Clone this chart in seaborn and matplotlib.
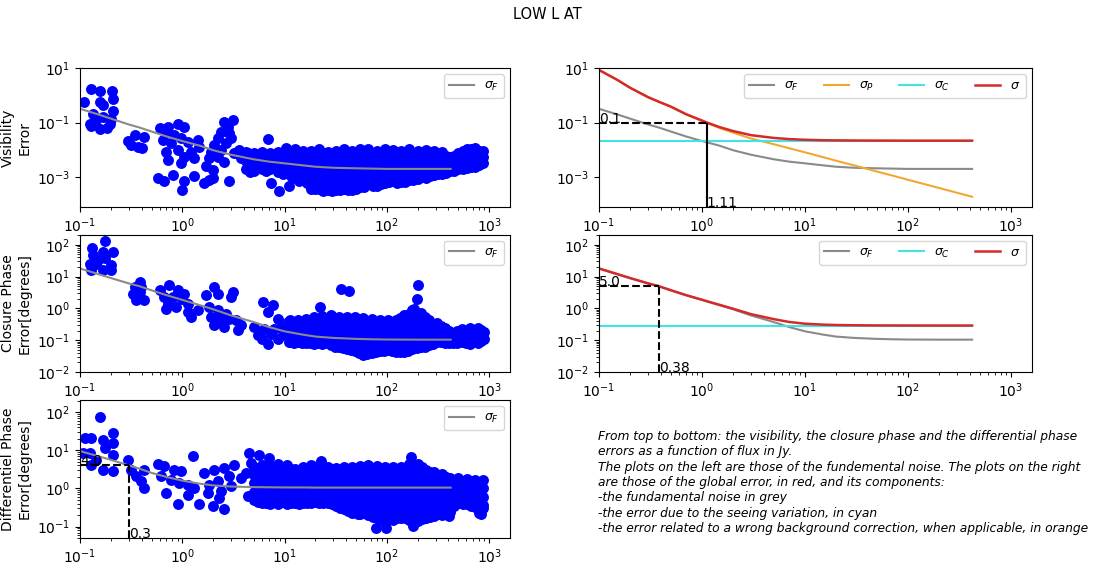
import numpy as np
import pandas as pd
import matplotlib
matplotlib.use("Agg")
import matplotlib.pyplot as plt
import seaborn as sns

# ---------------- data ----------------
# scatter points stored as (log10 flux [Jy], log10 error)
vis_sparse = [
    (-0.896, 0.237), (-0.809, 0.140), (-0.685, 0.140), (-0.679, -0.127), (-0.961, -0.248),
    (-0.809, -0.248), (-0.776, -0.369), (-0.874, -0.672), (-0.679, -0.587), (-0.906, -1.06),
    (-0.89, -1.13), (-0.809, -1.25), (-0.734, -1.19), (-0.695, -0.854), (-0.776, -0.793),
    (-0.841, -0.914), (-0.711, -1.036),
    (-0.532, -1.666), (-0.467, -1.46), (-0.435, -1.884), (-0.396, -1.945), (-0.37, -1.52), (-0.5, -1.82),
    (-0.223, -1.217), (-0.142, -1.157), (-0.044, -1.036), (0.021, -1.157), (-0.158, -1.399),
    (-0.077, -1.46), (-0.191, -1.642), (-0.109, -1.763), (-0.012, -1.581), (0.053, -1.702),
    (0.151, -1.642), (-0.158, -2.066), (-0.044, -2.005), (0.086, -2.066), (0.021, -2.248),
    (0.118, -2.308), (-0.142, -2.369), (-0.012, -2.49), (0.167, -1.884), (-0.24, -3.036),
    (-0.175, -3.157), (-0.093, -2.914), (0.021, -3.157), (-0.005, -3.48), (0.112, -2.975),
    (0.216, -3.217), (0.265, -3.096), (0.297, -3.036), (0.232, -2.611), (0.297, -2.733),
    (0.411, -0.975), (0.492, -0.914), (0.443, -1.157), (0.378, -1.339), (0.346, -1.581),
    (0.313, -1.824), (0.281, -2.066), (0.265, -2.308), (0.460, -1.399), (0.476, -1.581),
    (0.427, -1.763), (0.378, -2.005), (0.346, -2.248), (0.411, -2.43), (0.508, -2.127),
    (0.46, -3.157), (0.557, -2.005), (0.573, -2.308), (0.639, -2.127), (0.671, -2.49),
    (0.736, -2.248), (0.834, -1.617), (0.785, -2.369), (0.85, -2.611), (0.866, -3.217),
    (0.948, -3.52), (0.931, -2.127), (1.013, -1.945), (0.996, -2.49), (1.061, -2.854),
    (1.045, -3.339), (1.26, -3.42),
]
vis_blob = [
    (0.62, [-2.08, -2.40, -2.72]), (0.70, [-2.13, -2.45, -2.77]), (0.78, [-2.08, -2.38, -2.70]),
    (0.86, [-2.13, -2.42, -2.72]), (0.94, [-2.08, -2.40, -2.80]), (1.02, [-2.03, -2.33, -2.60, -2.82]),
    (1.10, [-1.98, -2.28, -2.58, -2.85, -3.02]), (1.18, [-2.03, -2.32, -2.62, -2.90, -3.12]),
    (1.26, [-2.03, -2.30, -2.58, -2.86, -3.10, -3.32]), (1.34, [-1.98, -2.26, -2.55, -2.84, -3.12, -3.42]),
    (1.42, [-2.08, -2.36, -2.64, -2.92, -3.20, -3.47]), (1.50, [-2.03, -2.31, -2.60, -2.88, -3.17, -3.47]),
    (1.58, [-1.98, -2.27, -2.56, -2.85, -3.14, -3.42]), (1.66, [-2.03, -2.32, -2.62, -2.90, -3.20, -3.47]),
    (1.74, [-1.98, -2.26, -2.55, -2.84, -3.12, -3.37]), (1.82, [-1.98, -2.28, -2.58, -2.88, -3.10, -3.27]),
    (1.90, [-2.03, -2.32, -2.62, -2.92, -3.15, -3.32]), (1.98, [-1.98, -2.26, -2.55, -2.84, -3.05, -3.22]),
    (2.06, [-2.00, -2.30, -2.60, -2.88, -3.12]), (2.14, [-2.03, -2.33, -2.63, -2.93, -3.17]),
    (2.22, [-1.98, -2.28, -2.58, -2.88, -3.12]), (2.30, [-2.03, -2.33, -2.63, -2.90, -3.07]),
    (2.38, [-2.01, -2.31, -2.61, -2.85, -3.02]), (2.46, [-2.06, -2.36, -2.64, -2.92]),
    (2.54, [-2.08, -2.38, -2.66, -2.87]), (2.62, [-2.28, -2.52, -2.77]), (2.70, [-2.13, -2.42, -2.72]),
    (2.78, [-1.98, -2.28, -2.55, -2.67]), (2.86, [-1.93, -2.22, -2.50, -2.62]), (2.94, [-2.03, -2.28, -2.47]),
    (0.66, [-2.24, -2.56, -2.80]), (0.74, [-2.25, -2.60]), (0.82, [-2.22, -2.55, -2.78]),
    (0.90, [-2.25, -2.58]), (0.98, [-2.18, -2.48, -2.72, -2.88]), (1.06, [-2.15, -2.45, -2.72, -2.95]),
    (1.14, [-2.13, -2.43, -2.72, -3.00, -3.15]), (1.22, [-2.16, -2.45, -2.74, -3.00, -3.22]),
    (1.30, [-2.12, -2.42, -2.70, -2.98, -3.25, -3.45]), (1.38, [-2.10, -2.40, -2.70, -2.98, -3.28, -3.50]),
    (1.46, [-2.18, -2.48, -2.76, -3.05, -3.33, -3.50]), (1.54, [-2.14, -2.44, -2.73, -3.02, -3.32, -3.48]),
    (1.62, [-2.12, -2.42, -2.70, -3.00, -3.30, -3.47]), (1.70, [-2.14, -2.45, -2.75, -3.05, -3.32, -3.45]),
    (1.78, [-2.10, -2.40, -2.70, -3.00, -3.25, -3.35]), (1.86, [-2.13, -2.43, -2.72, -3.00, -3.22, -3.33]),
    (1.94, [-2.15, -2.45, -2.75, -3.05, -3.25]), (2.02, [-2.12, -2.42, -2.72, -2.98, -3.18]),
    (2.10, [-2.15, -2.45, -2.75, -3.02, -3.20]), (2.18, [-2.14, -2.44, -2.74, -3.02, -3.18]),
    (2.26, [-2.13, -2.43, -2.73, -2.98, -3.10]), (2.34, [-2.16, -2.46, -2.75, -2.98]),
    (2.42, [-2.16, -2.46, -2.74, -2.95]), (2.50, [-2.20, -2.50, -2.78, -2.90]),
    (2.58, [-2.22, -2.50, -2.76, -2.85]), (2.66, [-2.22, -2.45, -2.62, -2.78]),
    (2.74, [-2.05, -2.33, -2.58, -2.72]), (2.82, [-1.98, -2.12, -2.40, -2.62]), (2.90, [-2.05, -2.36, -2.55]),
]

clo_sparse = [
    (-0.753, 2.116), (-0.883, 1.884), (-0.874, 1.674), (-0.776, 1.779), (-0.679, 1.779), (-0.76, 1.569),
    (-0.906, 1.41), (-0.841, 1.41), (-0.695, 1.358), (-0.89, 1.2), (-0.776, 1.2), (-0.695, 1.2), (-0.825, 1.516),
    (-0.418, 0.833), (-0.467, 0.675), (-0.483, 0.465), (-0.451, 0.254), (-0.37, 0.254), (-0.402, 0.675),
    (-0.418, 0.517),
    (-0.223, 0.57), (-0.126, 0.728), (-0.044, 0.57), (0.021, 0.465), (-0.175, 0.36), (-0.093, 0.36),
    (-0.142, 0.149), (-0.061, 0.044), (0.053, 0.149), (-0.158, -0.008), (0.0, 0.307),
    (0.053, -0.114), (0.086, -0.271), (0.151, -0.061),
    (0.313, 0.675), (0.232, 0.412), (0.346, 0.465), (0.492, 0.517), (0.476, 0.36), (0.265, 0.044),
    (0.346, -0.061), (0.427, -0.166), (0.281, -0.271), (0.378, -0.376), (0.313, -0.534), (0.411, -0.587),
    (0.525, -0.376), (0.573, -0.534), (0.541, -0.692), (0.46, -0.324), (0.346, -0.271),
    (0.785, 0.202), (0.883, 0.097), (0.834, -0.114), (0.931, -0.324), (0.704, -0.587), (0.801, -0.64),
    (0.736, -0.85), (0.866, -0.797), (0.964, -0.587), (1.029, -0.429), (1.045, -1.06), (0.931, -0.955),
    (0.834, -1.112), (1.013, -0.797), (1.094, -0.745), (0.90, -0.65), (0.98, -0.85), (0.78, -0.95),
    (1.553, 0.622), (1.634, 0.538), (2.301, 0.749), (2.295, 0.307), (2.268, -0.008), (2.22, -0.166),
    (1.342, 0.044),
]
clo_blob = [
    (1.05, [-0.36, -0.62, -0.86, -1.06]), (1.13, [-0.36, -0.62, -0.86, -1.06]),
    (1.21, [-0.34, -0.60, -0.86, -1.09]), (1.29, [-0.28, -0.55, -0.82, -1.11]),
    (1.37, [-0.24, -0.50, -0.77, -1.00, -1.12]), (1.45, [-0.21, -0.48, -0.75, -1.00, -1.16]),
    (1.53, [-0.26, -0.52, -0.78, -1.02, -1.22]), (1.61, [-0.28, -0.54, -0.80, -1.05, -1.29]),
    (1.69, [-0.28, -0.55, -0.82, -1.08, -1.34]), (1.77, [-0.31, -0.58, -0.85, -1.12, -1.30, -1.46]),
    (1.85, [-0.33, -0.60, -0.87, -1.13, -1.39]), (1.93, [-0.36, -0.62, -0.88, -1.12, -1.34]),
    (2.01, [-0.38, -0.64, -0.90, -1.12, -1.32]), (2.09, [-0.36, -0.62, -0.88, -1.12, -1.36]),
    (2.17, [-0.21, -0.48, -0.75, -1.02, -1.22, -1.37]), (2.25, [-0.06, -0.34, -0.62, -0.90, -1.13, -1.29]),
    (2.33, [-0.16, -0.44, -0.72, -0.98, -1.22]), (2.41, [-0.36, -0.62, -0.88, -1.14]),
    (2.49, [-0.46, -0.72, -0.98, -1.06]), (2.57, [-0.61, -0.86, -1.09]), (2.65, [-0.80, -1.09]),
    (2.73, [-0.66, -0.88, -1.06]), (2.81, [-0.61, -0.86, -1.11]), (2.89, [-0.62, -0.87, -1.08]),
    (2.95, [-0.75, -0.95]),
    (1.09, [-0.49, -0.74, -0.98, -1.08]), (1.17, [-0.49, -0.74, -0.98, -1.08]),
    (1.25, [-0.42, -0.68, -0.94, -1.10]), (1.33, [-0.38, -0.64, -0.90, -1.10]),
    (1.41, [-0.36, -0.62, -0.88, -1.10]), (1.49, [-0.35, -0.62, -0.90, -1.10, -1.20]),
    (1.57, [-0.40, -0.66, -0.91, -1.14, -1.26]), (1.65, [-0.42, -0.68, -0.94, -1.18, -1.32]),
    (1.73, [-0.44, -0.70, -0.96, -1.22, -1.40]), (1.81, [-0.46, -0.72, -0.98, -1.22, -1.44]),
    (1.89, [-0.48, -0.74, -1.00, -1.25, -1.38]), (1.97, [-0.50, -0.76, -1.01, -1.24, -1.33]),
    (2.05, [-0.50, -0.76, -1.01, -1.24, -1.35]), (2.13, [-0.30, -0.55, -0.80, -1.04, -1.26, -1.36]),
    (2.21, [-0.20, -0.46, -0.74, -1.00, -1.24, -1.34]), (2.29, [-0.25, -0.50, -0.78, -1.04, -1.26]),
    (2.37, [-0.28, -0.50, -0.76, -1.02, -1.20]), (2.45, [-0.48, -0.75, -1.00, -1.12]),
    (2.53, [-0.55, -0.80, -1.05]), (2.61, [-0.70, -0.95, -1.08]), (2.69, [-0.72, -0.95, -1.08]),
    (2.77, [-0.74, -0.98, -1.10]), (2.85, [-0.74, -0.98]), (2.92, [-0.68, -0.90, -1.02]),
]

dif_sparse = [
    (-0.809, 1.875), (-0.955, 1.312), (-0.89, 1.33), (-0.776, 1.269), (-0.679, 1.442), (-0.679, 1.182),
    (-0.76, 1.052), (-0.906, 0.922), (-0.971, 0.922), (-0.679, 0.879), (-0.89, 0.619), (-0.776, 0.489),
    (-0.679, 0.446), (-0.841, 0.749),
    (-0.532, 0.749), (-0.5, 0.489), (-0.37, 0.489), (-0.451, 0.316), (-0.402, 0.187), (-0.37, 0.013),
    (0.102, 0.836),
    (-0.24, 0.637), (-0.175, 0.576), (-0.077, 0.489), (-0.012, 0.446), (-0.207, 0.316), (-0.109, 0.23),
    (-0.028, 0.143), (0.053, 0.1), (-0.158, -0.117), (-0.044, -0.42), (0.053, -0.16), (0.167, -0.402),
    (0.118, 0.013),
    (0.216, 0.403), (0.313, 0.489), (0.411, 0.533), (0.508, 0.619), (0.46, 0.316), (0.346, 0.187),
    (0.265, 0.1), (0.248, -0.117), (0.378, -0.073), (0.476, 0.056), (0.297, -0.463), (0.411, -0.55),
    (0.362, -0.247), (0.573, 0.273), (0.622, 0.403), (0.639, -0.203), (0.655, 0.922), (0.671, 0.663),
    (0.752, 0.879), (0.85, 0.793),
    (1.992, -1.03), (2.252, -0.98), (1.716, -0.68), (2.61, -0.72), (2.92, -0.68), (2.236, 0.81),
    (1.358, 0.72), (1.894, -1.03), (2.9, -0.64),
]
dif_blob = [
    (0.70, [0.57, 0.35, 0.13, -0.09, -0.31]), (0.78, [0.62, 0.46, 0.24, 0.02, -0.20, -0.37]),
    (0.86, [0.59, 0.37, 0.15, -0.07, -0.29, -0.42]), (0.94, [0.65, 0.46, 0.24, 0.02, -0.20, -0.42]),
    (1.02, [0.62, 0.37, 0.15, -0.07, -0.29, -0.42]), (1.10, [0.52, 0.30, 0.08, -0.14, -0.37]),
    (1.18, [0.57, 0.37, 0.15, -0.07, -0.29, -0.37]), (1.26, [0.62, 0.46, 0.24, 0.02, -0.20, -0.37]),
    (1.34, [0.62, 0.37, 0.15, -0.07, -0.29, -0.37]), (1.42, [0.57, 0.46, 0.24, 0.02, -0.20, -0.37]),
    (1.50, [0.53, 0.31, 0.09, -0.13, -0.35, -0.47]), (1.58, [0.55, 0.40, 0.18, -0.04, -0.26, -0.48, -0.55]),
    (1.66, [0.57, 0.31, 0.09, -0.13, -0.35, -0.57, -0.64]), (1.74, [0.59, 0.40, 0.18, -0.04, -0.26, -0.48, -0.67]),
    (1.82, [0.62, 0.31, 0.09, -0.13, -0.35, -0.57, -0.69]),
    (1.90, [0.59, 0.40, 0.18, -0.04, -0.26, -0.48, -0.70, -0.77]),
    (1.98, [0.57, 0.31, 0.09, -0.13, -0.35, -0.57, -0.79, -0.87]),
    (2.06, [0.57, 0.40, 0.18, -0.04, -0.26, -0.48, -0.70, -0.82]),
    (2.14, [0.55, 0.31, 0.09, -0.13, -0.35, -0.57, -0.77]),
    (2.22, [0.65, 0.40, 0.18, -0.04, -0.26, -0.48, -0.70, -0.82]),
    (2.30, [0.65, 0.48, 0.26, 0.04, -0.18, -0.40, -0.62, -0.85]),
    (2.38, [0.49, 0.31, 0.09, -0.13, -0.35, -0.57, -0.77]),
    (2.46, [0.42, 0.22, 0.00, -0.22, -0.44, -0.66, -0.72]),
    (2.54, [0.37, 0.15, -0.07, -0.29, -0.51, -0.69]), (2.62, [0.27, 0.06, -0.16, -0.38, -0.62]),
    (2.70, [0.27, 0.08, -0.14, -0.37]), (2.78, [0.25, 0.04, -0.18, -0.42]),
    (2.86, [0.23, 0.06, -0.16, -0.38, -0.49]), (2.94, [0.21, 0.00, -0.22, -0.44, -0.52]),
    (0.74, [0.50, 0.28, 0.06, -0.16, -0.36]), (0.82, [0.50, 0.28, 0.06, -0.16, -0.38]),
    (0.90, [0.52, 0.30, 0.08, -0.14, -0.36]), (0.98, [0.55, 0.30, 0.08, -0.14, -0.36]),
    (1.06, [0.50, 0.28, 0.06, -0.16, -0.38]), (1.14, [0.46, 0.24, 0.02, -0.20, -0.40]),
    (1.22, [0.50, 0.28, 0.06, -0.16, -0.38]), (1.30, [0.53, 0.30, 0.08, -0.14, -0.36]),
    (1.38, [0.50, 0.28, 0.06, -0.16, -0.38]), (1.46, [0.48, 0.35, 0.13, -0.09, -0.31, -0.42]),
    (1.54, [0.46, 0.24, 0.02, -0.20, -0.42, -0.52]), (1.62, [0.48, 0.22, 0.00, -0.22, -0.44, -0.60]),
    (1.70, [0.50, 0.22, 0.00, -0.22, -0.44, -0.62]), (1.78, [0.50, 0.22, 0.00, -0.22, -0.44, -0.64]),
    (1.86, [0.50, 0.22, 0.00, -0.22, -0.44, -0.66, -0.74]),
    (1.94, [0.50, 0.22, 0.00, -0.22, -0.44, -0.66, -0.82]),
    (2.02, [0.48, 0.25, 0.03, -0.19, -0.41, -0.63, -0.80]),
    (2.10, [0.48, 0.22, 0.00, -0.22, -0.44, -0.66, -0.78]),
    (2.18, [0.52, 0.25, 0.03, -0.19, -0.41, -0.63, -0.78]),
    (2.26, [0.58, 0.37, 0.15, -0.07, -0.29, -0.51, -0.73, -0.84]),
    (2.34, [0.55, 0.40, 0.18, -0.04, -0.26, -0.48, -0.70, -0.80]),
    (2.42, [0.42, 0.20, -0.02, -0.24, -0.46, -0.68, -0.75]),
    (2.50, [0.35, 0.12, -0.10, -0.32, -0.54, -0.68]), (2.58, [0.30, 0.08, -0.14, -0.36, -0.58, -0.66]),
    (2.66, [0.18, -0.04, -0.26, -0.45]), (2.74, [0.20, -0.02, -0.24, -0.40]),
    (2.82, [0.18, -0.04, -0.26, -0.46]), (2.90, [0.16, -0.06, -0.28, -0.48]),
]

# model curves
flux_model = [0.1, 0.15, 0.2, 0.3, 0.38, 0.5, 0.7, 1.0, 1.11, 1.5, 2, 3, 5, 7, 10, 15, 20, 30, 50, 70, 100, 200, 420]
vis_sigma_f = [0.32, 0.2, 0.14, 0.085, 0.066, 0.047, 0.031, 0.021, 0.019, 0.014, 0.0097, 0.0066, 0.0045,
               0.0037, 0.0032, 0.0027, 0.0024, 0.0022, 0.0021, 0.00205, 0.002, 0.002, 0.002]
vis_sigma_p = [8.5, 3.7, 1.9, 0.85, 0.58, 0.38, 0.2, 0.115, 0.097, 0.062, 0.043, 0.026, 0.016, 0.0115,
               0.0081, 0.0054, 0.004, 0.0027, 0.0016, 0.00115, 0.0008, 0.0004, 0.00019]
vis_sigma_c = 0.0216
vis_sigma = [8.506, 3.706, 1.905, 0.855, 0.584, 0.383, 0.2035, 0.119, 0.1012, 0.0672, 0.0491, 0.0345,
             0.0273, 0.0248, 0.0234, 0.0225, 0.0222, 0.022, 0.0218, 0.0218, 0.0217, 0.0217, 0.0217]
clo_sigma_f = [18, 12, 9, 6.1, 4.99, 3.7, 2.6, 1.85, 1.67, 1.25, 0.94, 0.6, 0.37, 0.26, 0.19, 0.15, 0.13,
               0.118, 0.11, 0.107, 0.105, 0.104, 0.104]
clo_sigma_c = 0.27
clo_sigma = [18.0, 12.0, 9.0, 6.106, 5.0, 3.71, 2.614, 1.87, 1.69, 1.279, 0.978, 0.658, 0.458, 0.375, 0.33,
             0.309, 0.3, 0.2947, 0.2915, 0.2904, 0.2897, 0.2893, 0.2893]
dif_sigma_f = [9.5, 7.0, 5.6, 4.0, 3.3, 2.55, 2.0, 1.6, 1.52, 1.32, 1.2, 1.12, 1.08, 1.07, 1.06, 1.06, 1.05,
               1.05, 1.05, 1.05, 1.05, 1.05, 1.05]

# read-off annotations: (flux, error)
vis_mark = (1.11, 0.1)
clo_mark = (0.38, 5.0)
dif_mark = (0.3, 4.0)

ylabels = ["Visibility\nError", "Closure Phase\nError[degrees]", "Differentiel Phase\nError[degrees]"]
title = "LOW L AT"
caption = ("From top to bottom: the visibility, the closure phase and the differential phase\n"
           "errors as a function of flux in Jy.\n"
           "The plots on the left are those of the fundemental noise. The plots on the right\n"
           "are those of the global error, in red, and its components:\n"
           "-the fundamental noise in grey\n"
           "-the error due to the seeing variation, in cyan\n"
           "-the error related to a wrong background correction, when applicable, in orange")


def points_frame(sparse, blob):
    lx = [p[0] for p in sparse]
    ly = [p[1] for p in sparse]
    for cx, ys in blob:
        for cy in ys:
            lx.append(cx)
            ly.append(cy)
    return pd.DataFrame({"flux": np.power(10.0, lx), "err": np.power(10.0, ly)})


vis_df = points_frame(vis_sparse, vis_blob)
clo_df = points_frame(clo_sparse, clo_blob)
dif_df = points_frame(dif_sparse, dif_blob)

# ---------------- figure ----------------
fig = plt.figure(figsize=(10.95, 5.67), dpi=100)
XL = (0.1, 1600)
YL = [(8e-5, 10), (0.01, 210), (0.05, 210)]

lw_x, lw_w = 0.0731, 0.3927
rx, rw = 0.547, 0.3954
rows = [(0.6349, 0.2451), (0.3439, 0.2425), (0.0510, 0.2440)]

GRAY, ORANGE, CYAN, RED = "#8a8a8a", "#f0a830", "#40e4e4", "#d42a2a"
SCAT = dict(color="blue", s=62, linewidth=0, legend=False)
LEG = dict(loc="upper right", fontsize=9)

left_axes = []
for i, (df, sf) in enumerate([(vis_df, vis_sigma_f), (clo_df, clo_sigma_f), (dif_df, dif_sigma_f)]):
    b, h = rows[i]
    ax = fig.add_axes([lw_x, b, lw_w, h])
    ax.set_xscale("log")
    ax.set_yscale("log")
    sns.scatterplot(data=df, x="flux", y="err", ax=ax, **SCAT)
    sns.lineplot(x=flux_model, y=sf, ax=ax, color=GRAY, lw=1.5, label=r"$\sigma_F$",
                 estimator=None, sort=False)
    ax.set_xlim(*XL)
    ax.set_ylim(*YL[i])
    ax.set_xlabel("")
    ax.set_ylabel(ylabels[i])
    ax.legend(**LEG)
    left_axes.append(ax)

# differential annotation on the bottom-left panel
ax = left_axes[2]
ax.hlines(dif_mark[1], XL[0], dif_mark[0], colors="k", linestyles="--", lw=1.5)
ax.vlines(dif_mark[0], YL[2][0], dif_mark[1], colors="k", linestyles="--", lw=1.5)
ax.text(XL[0], dif_mark[1], f"{dif_mark[1]:.1f}", fontsize=10)
ax.text(dif_mark[0], YL[2][0], f"{dif_mark[0]:g}", fontsize=10)

# right top: visibility global error
ax = fig.add_axes([rx, rows[0][0], rw, rows[0][1]])
ax.set_xscale("log")
ax.set_yscale("log")
sns.lineplot(x=flux_model, y=vis_sigma_f, ax=ax, color=GRAY, lw=1.5, label=r"$\sigma_F$", estimator=None, sort=False)
sns.lineplot(x=flux_model, y=vis_sigma_p, ax=ax, color=ORANGE, lw=1.5, label=r"$\sigma_P$", estimator=None, sort=False)
sns.lineplot(x=[flux_model[0], flux_model[-1]], y=[vis_sigma_c, vis_sigma_c], ax=ax, color=CYAN, lw=1.5,
             label=r"$\sigma_C$", estimator=None, sort=False)
sns.lineplot(x=flux_model, y=vis_sigma, ax=ax, color=RED, lw=1.8, label=r"$\sigma$", estimator=None, sort=False)
ax.set_xlim(*XL)
ax.set_ylim(*YL[0])
ax.hlines(vis_mark[1], XL[0], vis_mark[0], colors="k", linestyles="--", lw=1.5)
ax.vlines(vis_mark[0], YL[0][0], vis_mark[1], colors="k", lw=1.5)
ax.text(XL[0], vis_mark[1], f"{vis_mark[1]:g}", fontsize=10)
ax.text(vis_mark[0], YL[0][0], f"{vis_mark[0]:g}", fontsize=10)
ax.legend(ncol=4, **LEG)
ax.set_xlabel("")
ax.set_ylabel("")

# right middle: closure phase global error
ax = fig.add_axes([rx, rows[1][0], rw, rows[1][1]])
ax.set_xscale("log")
ax.set_yscale("log")
sns.lineplot(x=flux_model, y=clo_sigma_f, ax=ax, color=GRAY, lw=1.5, label=r"$\sigma_F$", estimator=None, sort=False)
sns.lineplot(x=[flux_model[0], flux_model[-1]], y=[clo_sigma_c, clo_sigma_c], ax=ax, color=CYAN, lw=1.5,
             label=r"$\sigma_C$", estimator=None, sort=False)
sns.lineplot(x=flux_model, y=clo_sigma, ax=ax, color=RED, lw=1.8, label=r"$\sigma$", estimator=None, sort=False)
ax.set_xlim(*XL)
ax.set_ylim(*YL[1])
ax.hlines(clo_mark[1], XL[0], clo_mark[0], colors="k", linestyles="--", lw=1.5)
ax.vlines(clo_mark[0], YL[1][0], clo_mark[1], colors="k", linestyles="--", lw=1.5)
ax.text(XL[0], clo_mark[1], f"{clo_mark[1]:.1f}", fontsize=10)
ax.text(clo_mark[0], YL[1][0], f"{clo_mark[0]:g}", fontsize=10)
ax.legend(ncol=3, **LEG)
ax.set_xlabel("")
ax.set_ylabel("")

fig.text(0.5, 0.975, title, ha="center", va="center", fontsize=10.5)
fig.text(0.546, 0.242, caption, ha="left", va="top", fontsize=8.8, style="italic", linespacing=1.24)

fig.savefig("out.png", dpi=100)
